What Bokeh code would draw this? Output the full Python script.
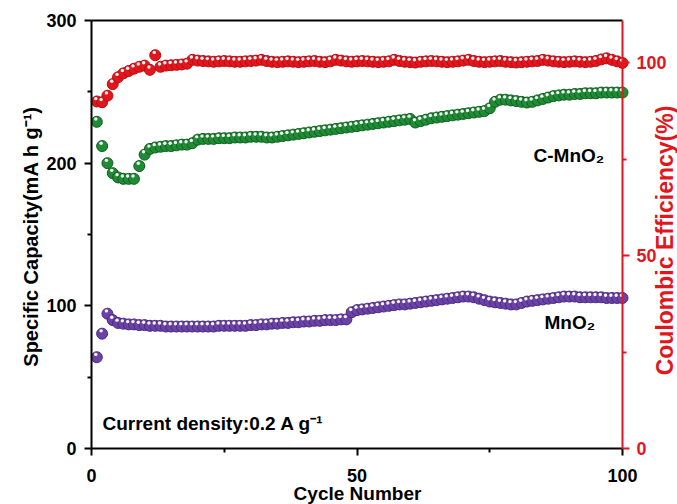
from math import pi
import numpy as np
from bokeh.plotting import figure
from bokeh.models import Range1d, LinearAxis, FixedTicker, Label
from bokeh.embed import file_html
from bokeh.resources import INLINE

# ---------------- data ----------------
cycles = list(range(1, 101))

coulombic_eff = [
    90.0, 89.8, 91.5, 94.5, 96.3, 97.3, 97.9, 98.5, 99.0, 99.3,
    98.2, 102.0, 99.0, 99.3, 99.4, 99.5, 99.6, 99.8, 100.8, 100.6,
    100.5, 100.4, 100.3, 100.4, 100.5, 100.4, 100.3, 100.3, 100.4, 100.5,
    100.6, 100.8, 100.5, 100.3, 100.2, 100.3, 100.4, 100.3, 100.2, 100.3,
    100.4, 100.5, 100.3, 100.2, 100.4, 100.8, 100.6, 100.4, 100.3, 100.4,
    100.5, 100.4, 100.3, 100.2, 100.3, 100.4, 100.8, 100.5, 100.3, 100.2,
    100.1, 100.3, 100.4, 100.5, 100.4, 100.3, 100.2, 100.3, 100.4, 100.6,
    100.8, 100.5, 100.3, 100.2, 100.3, 100.4, 100.5, 100.3, 100.2, 100.1,
    100.2, 100.3, 100.4, 100.5, 100.8, 100.6, 100.4, 100.3, 100.2, 100.3,
    100.4, 100.3, 100.2, 100.3, 100.5, 100.9, 101.2, 100.8, 100.4, 100.0,
]

cap_c_mno2 = [
    229, 212, 200, 193, 190, 189, 189, 189, 198, 206,
    210, 211, 211.5, 212, 212, 212.5, 213, 213, 214, 216.5,
    217, 217, 217, 217.5, 217.5, 217.5, 218, 218, 218, 218.5,
    218.5, 218.5, 218, 218, 218.5, 219, 219.5, 220, 220.5, 221,
    221.5, 222, 222.5, 223, 223.5, 224, 224.5, 225, 225.5, 226,
    226.5, 227, 227.5, 228, 228.5, 229, 229.5, 230, 230.5, 231,
    228.5, 229.5, 230.5, 231.5, 232, 232.5, 233, 233.5, 234, 234.5,
    235, 235.5, 236, 236.5, 238.5, 243, 244.5, 244.5, 244, 243.5,
    243, 242.5, 243, 244, 245, 246, 247, 247.5, 248, 248,
    248.5, 248.5, 249, 249, 249, 249.5, 249.5, 249.5, 249.5, 249.5,
]

cap_mno2 = [
    64, 80.5, 94.5, 90, 88, 87.5, 87, 87, 86.5, 86.5,
    86, 86, 86, 85.5, 85.5, 85.5, 85.5, 85.5, 85.5, 85.5,
    85.5, 85.5, 85.5, 86, 86, 86, 86, 86, 86, 86.5,
    86.5, 87, 87, 87.5, 87.5, 88, 88, 88.5, 88.5, 89,
    89, 89.5, 89.5, 90, 90, 90, 90.5, 90.5, 95.5, 97,
    97.5, 98, 98.5, 99, 99.5, 100, 100.5, 101, 101, 101.5,
    102, 102.5, 103, 103.5, 104, 104.5, 105, 105.5, 106, 106.5,
    106.5, 106, 105, 104, 103, 102.5, 102, 101.5, 101, 101,
    102, 103, 103.5, 104, 104.5, 105, 105.5, 106, 106.5, 106.5,
    106.5, 106, 106, 106, 106, 106, 105.5, 105.5, 105.5, 105.5,
]

x_major = [0, 50, 100]
x_minor = [25, 75]
cap_major = [0, 100, 200, 300]
cap_minor = [50, 150, 250]
ce_major = [0, 50, 100]
ce_minor = [25, 75]

# ---------------- geometry / styling ----------------
FONT = "Liberation Sans"
RED = "#e3161d"
RED_EDGE = "#b80d12"
GREEN = "#1f8c35"
GREEN_EDGE = "#0f5f1f"
PURPLE = "#6b43a6"
PURPLE_EDGE = "#4a2a80"

W, H = 677, 504
# pixel position of the plotting box inside the canvas
LEFT, RIGHT, TOP, BOTTOM = 91, 622, 20, 448
X_MAX = 100
CAP_MAX = 300
CE_MAX = 111

px_x = (RIGHT - LEFT) / X_MAX
px_cap = (BOTTOM - TOP) / CAP_MAX
px_ce = (BOTTOM - TOP) / CE_MAX

# the frame fills the whole canvas, axes are placed at fixed locations
x_rng = Range1d(-LEFT / px_x, (W - LEFT) / px_x)
cap_rng = Range1d(-(H - BOTTOM) / px_cap, BOTTOM / px_cap)
ce_rng = Range1d(-(H - BOTTOM) / px_ce, BOTTOM / px_ce)

p = figure(width=W, height=H, output_backend="svg", toolbar_location=None,
           x_range=x_rng, y_range=cap_rng,
           x_axis_location=None, y_axis_location=None, min_border=0)
p.extra_y_ranges = {"ce": ce_rng}
for g in p.grid:
    g.visible = False
p.outline_line_color = None
p.background_fill_color = "white"
p.border_fill_color = "white"


def style_axis(ax, color, standoff):
    ax.axis_line_color = color
    ax.axis_line_width = 2
    ax.major_tick_line_color = color
    ax.minor_tick_line_color = color
    ax.major_tick_line_width = 2
    ax.minor_tick_line_width = 2
    ax.major_tick_out = 7
    ax.major_tick_in = 0
    ax.minor_tick_out = 4
    ax.minor_tick_in = 0
    ax.major_label_text_font = FONT
    ax.major_label_text_font_style = "bold"
    ax.major_label_text_font_size = "18px"
    ax.major_label_text_color = color
    ax.major_label_standoff = standoff


xa = LinearAxis(fixed_location=0, bounds=(0, X_MAX),
                ticker=FixedTicker(ticks=x_major, minor_ticks=x_minor))
style_axis(xa, "black", 13)
p.add_layout(xa, "below")

ya = LinearAxis(fixed_location=0, bounds=(0, CAP_MAX),
                ticker=FixedTicker(ticks=cap_major, minor_ticks=cap_minor))
style_axis(ya, "black", 8)
p.add_layout(ya, "left")

top = LinearAxis(fixed_location=CAP_MAX, bounds=(0, X_MAX),
                 ticker=FixedTicker(ticks=[]),
                 axis_line_color="black", axis_line_width=2,
                 major_tick_out=0, minor_tick_out=0, major_tick_in=0,
                 minor_tick_in=0, major_label_text_font_size="0px")
p.add_layout(top, "above")

ra = LinearAxis(y_range_name="ce", fixed_location=X_MAX, bounds=(0, CE_MAX),
                ticker=FixedTicker(ticks=ce_major, minor_ticks=ce_minor))
style_axis(ra, RED, 7)
p.add_layout(ra, "right")

# ---------------- markers ----------------
cyc = np.array(cycles, dtype=float)
hx = cyc - 1.0 / px_x


def series(yvals, fill, edge, px_y, rng=None):
    kw = {} if rng is None else {"y_range_name": rng}
    y = np.array(yvals, dtype=float)
    p.scatter(cyc, y, marker="circle", size=11, fill_color=fill,
              line_color=edge, line_width=1, **kw)
    p.scatter(hx, y + 2.8 / px_y, marker="circle", size=3.4,
              fill_color="white", line_color=None, fill_alpha=0.95, **kw)


series(coulombic_eff, RED, RED_EDGE, px_ce, "ce")
series(cap_c_mno2, GREEN, GREEN_EDGE, px_cap)
series(cap_mno2, PURPLE, PURPLE_EDGE, px_cap)

# ---------------- text ----------------
def txt(x, y, s, size, color="black", align="left", angle=0.0):
    p.add_layout(Label(x=x, y=y, text=s, text_font=FONT,
                       text_font_style="bold", text_font_size=size,
                       text_color=color, text_align=align,
                       text_baseline="middle", angle=angle))


# positions in data units, from canvas pixels of the reference
def dx(px):
    return (px - LEFT) / px_x


def dy(py):
    return (BOTTOM - py) / px_cap


txt(dx(533), dy(155), "C-MnO\u2082", "19px")
txt(dx(544), dy(322), "MnO\u2082", "19px")
txt(dx(102), dy(423), "Current density:0.2 A g\u207b\u00b9", "19px")
txt(dx(357), dy(493), "Cycle Number", "19px", align="center")
txt(dx(30), dy(236), "Specific Capacity(mA h g\u207b\u00b9)", "20px",
    align="center", angle=pi / 2)
txt(dx(664), dy(240), "Coulombic Efficiency(%)", "23px", color=RED,
    align="center", angle=pi / 2)

open("out.html", "w").write(file_html(p, INLINE))
